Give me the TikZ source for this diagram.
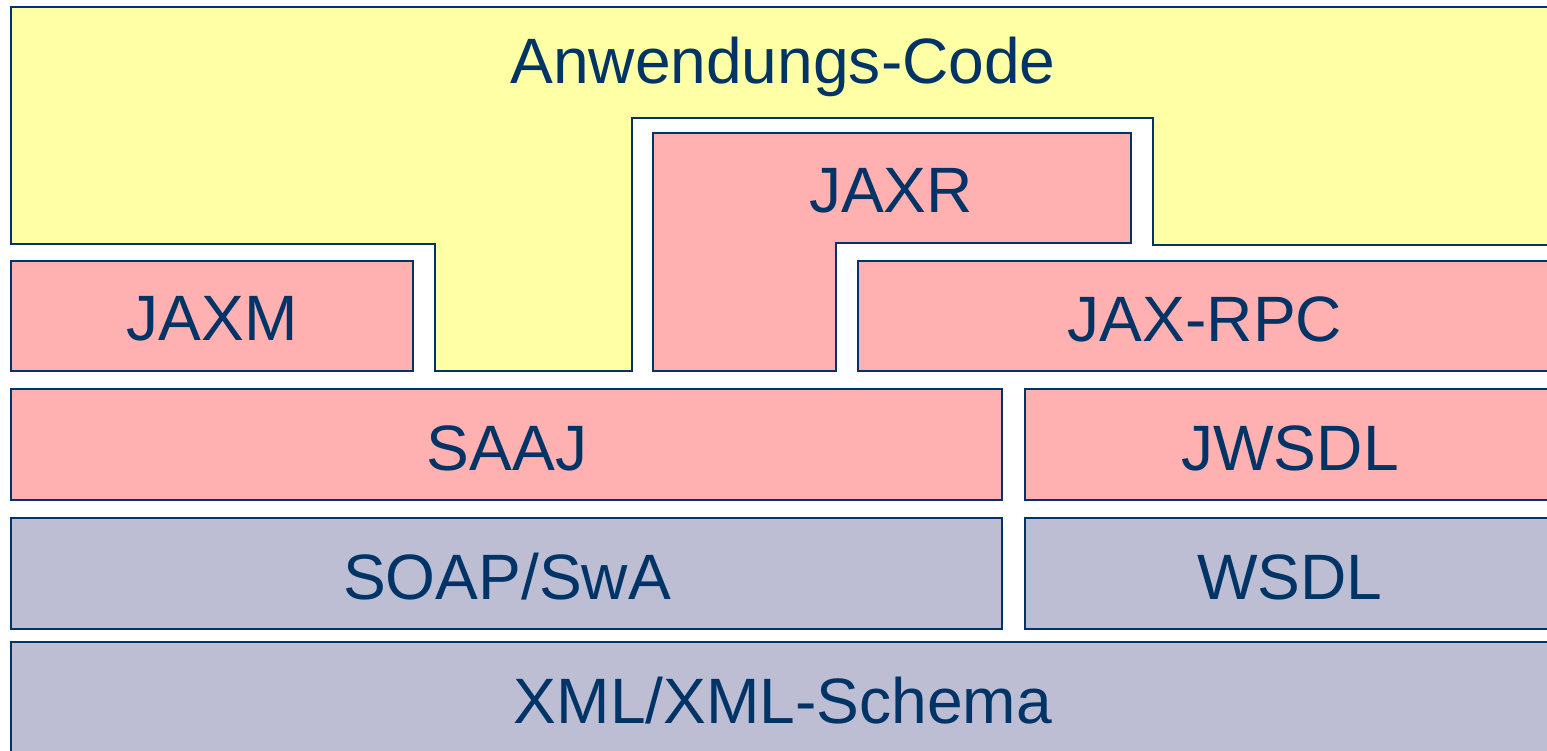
\documentclass[tikz,border=0pt]{standalone}
\usepackage{fontspec}
\setmainfont{Liberation Sans}
\usepackage{tikz}
\usetikzlibrary{positioning}
\definecolor{rand}{RGB}{0,51,102}
\definecolor{gelb}{RGB}{255,255,166}
\definecolor{rosa}{RGB}{255,176,176}
\definecolor{lila}{RGB}{189,189,211}
\tikzstyle{schicht} = [draw=rand, line width=1.3pt]
\tikzstyle{api} = [schicht, fill=rosa]
\tikzstyle{std} = [schicht, fill=lila]
\tikzstyle{titel} = [text=rand, font=\fontsize{36.5}{40}\selectfont, inner sep=0pt]

\begin{document}
\begin{tikzpicture}[x=0.02cm, y=-0.02cm]
    \useasboundingbox (0,0) rectangle (1547,750);
    \clip (0,0) rectangle (1547,750);
    % Anwendung
    \draw[schicht, fill=gelb] (11,7) -- (1570,7) -- (1570,245) -- (1153,245) -- (1153,118) -- (632,118) -- (632,371) -- (435,371) -- (435,244) -- (11,244) -- cycle;
    \node[titel] (code) at (783,67) {Anwendungs-Code};
    % Java-APIs
    \draw[api] (653,133) -- (1131,133) -- (1131,243) -- (836,243) -- (836,371) -- (653,371) -- cycle;
    \node[titel] (jaxr) at (891,191) {JAXR};
    \draw[api] (11,261) rectangle (413,371);
    \node[titel] (jaxm) at (212,319) {JAXM};
    \draw[api] (858,261) rectangle (1570,371);
    \node[titel] (jaxrpc) at (1205,319) {JAX-RPC};
    \draw[api] (11,389) rectangle (1002,500);
    \node[titel] (saaj) at (507,448) {SAAJ};
    \draw[api] (1025,389) rectangle (1570,500);
    \node[titel] (jwsdl) at (1290,448) {JWSDL};
    % Standards
    \draw[std] (11,518) rectangle (1002,629);
    \node[titel] (soap) at (507,577) {SOAP/SwA};
    \draw[std] (1025,518) rectangle (1570,629);
    \node[titel] (wsdl) at (1290,577) {WSDL};
    \draw[std] (11,642) rectangle (1570,780);
    \node[titel] (xml) at (783,701) {XML/XML-Schema};
\end{tikzpicture}
\end{document}
